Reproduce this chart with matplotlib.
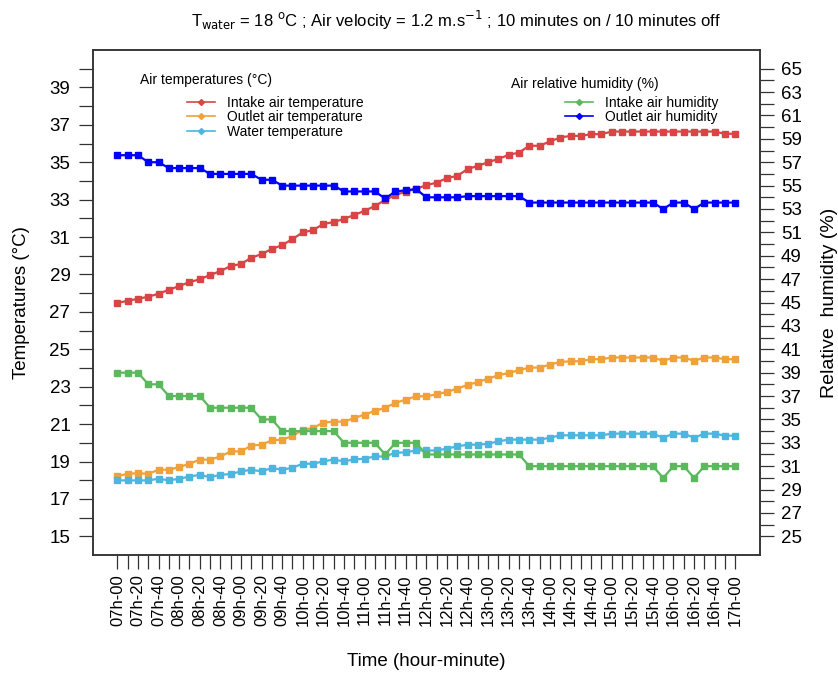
import numpy as np
import matplotlib
matplotlib.use("Agg")
import matplotlib.pyplot as plt
from matplotlib.lines import Line2D

plt.rcParams['font.family'] = ['Liberation Sans', 'DejaVu Sans']

# time axis: one point every 10 minutes from 07h-00 to 17h-00
times = ["%02dh-%02d" % (7 + m // 60, m % 60) for m in range(0, 601, 10)]

intake_temp = [27.48, 27.59, 27.70, 27.81, 27.97, 28.18, 28.38, 28.59, 28.74, 28.97,
               29.18, 29.45, 29.56, 29.89, 30.09, 30.36, 30.57, 30.89, 31.25, 31.37,
               31.70, 31.80, 31.97, 32.18, 32.40, 32.66, 32.98, 33.25, 33.43, 33.58,
               33.77, 33.91, 34.15, 34.27, 34.63, 34.81, 35.00, 35.18, 35.39, 35.52,
               35.88, 35.88, 36.11, 36.32, 36.41, 36.41, 36.50, 36.50, 36.64, 36.64,
               36.64, 36.64, 36.64, 36.64, 36.64, 36.64, 36.64, 36.64, 36.64, 36.52,
               36.52]
outlet_temp = [18.22, 18.34, 18.38, 18.34, 18.56, 18.56, 18.70, 18.88, 19.10, 19.10,
               19.27, 19.54, 19.54, 19.85, 19.90, 20.13, 20.17, 20.36, 20.70, 20.79,
               21.08, 21.13, 21.13, 21.32, 21.51, 21.70, 21.88, 22.13, 22.31, 22.49,
               22.49, 22.59, 22.72, 22.90, 23.09, 23.25, 23.43, 23.61, 23.73, 23.88,
               24.02, 24.02, 24.18, 24.32, 24.36, 24.36, 24.47, 24.47, 24.56, 24.56,
               24.56, 24.56, 24.56, 24.38, 24.56, 24.56, 24.38, 24.56, 24.56, 24.47,
               24.47]
water_temp = [17.99, 17.99, 17.99, 17.99, 18.08, 17.99, 18.08, 18.19, 18.29, 18.16,
              18.29, 18.33, 18.47, 18.56, 18.47, 18.65, 18.56, 18.67, 18.88, 18.88,
              19.01, 19.10, 19.01, 19.11, 19.15, 19.27, 19.27, 19.47, 19.49, 19.59,
              19.59, 19.59, 19.69, 19.81, 19.90, 19.90, 19.95, 20.08, 20.17, 20.17,
              20.17, 20.17, 20.27, 20.40, 20.40, 20.40, 20.40, 20.40, 20.49, 20.49,
              20.49, 20.49, 20.49, 20.27, 20.49, 20.49, 20.27, 20.49, 20.49, 20.38,
              20.38]
intake_rh = [39, 39, 39, 38, 38, 37, 37, 37, 37, 36,
             36, 36, 36, 36, 35, 35, 34, 34, 34, 34,
             34, 34, 33, 33, 33, 33, 32, 33, 33, 33,
             32, 32, 32, 32, 32, 32, 32, 32, 32, 32,
             31, 31, 31, 31, 31, 31, 31, 31, 31, 31,
             31, 31, 31, 30, 31, 31, 30, 31, 31, 31,
             31]
outlet_rh = [57.6, 57.6, 57.6, 57.0, 57.0, 56.5, 56.5, 56.5, 56.5, 56.0,
             56.0, 56.0, 56.0, 56.0, 55.5, 55.5, 55.0, 55.0, 55.0, 55.0,
             55.0, 55.0, 54.5, 54.5, 54.5, 54.5, 53.9, 54.5, 54.6, 54.7,
             54.0, 54.0, 54.0, 54.0, 54.1, 54.1, 54.1, 54.1, 54.1, 54.1,
             53.55, 53.55, 53.55, 53.55, 53.55, 53.55, 53.55, 53.55, 53.55, 53.55,
             53.55, 53.55, 53.55, 53.0, 53.55, 53.55, 53.0, 53.55, 53.55, 53.55,
             53.55]

c_red = "#D94545"
c_orange = "#F0A13A"
c_cyan = "#4DB6DE"
c_green = "#5CB85C"
c_blue = "#0000FF"

x = np.arange(len(times))

fig = plt.figure(figsize=(8.38, 6.73), dpi=100)
ax = fig.add_axes([0.1106, 0.1753, 0.7963, 0.7504])
ax2 = ax.twinx()

kw = dict(marker="s", markersize=4.3, linewidth=1.6)
ax.plot(x, intake_temp, color=c_red, **kw)
ax.plot(x, outlet_temp, color=c_orange, **kw)
ax.plot(x, water_temp, color=c_cyan, **kw)
ax2.plot(x, intake_rh, color=c_green, **kw)
ax2.plot(x, outlet_rh, color=c_blue, **kw)

ax.set_xlim(-2.4, 62.4)
ax.set_ylim(14, 41)
ax2.set_ylim(23.4, 66.6)

ax.set_xticks(x)
ax.set_xticklabels([t if i % 2 == 0 else "" for i, t in enumerate(times)],
                   rotation=90, fontsize=12)
ax.set_yticks(range(15, 41))
ax.set_yticklabels([str(v) if v % 2 == 1 else "" for v in range(15, 41)], fontsize=13.5)
ax2.set_yticks(range(25, 66))
ax2.set_yticklabels([str(v) if v % 2 == 1 else "" for v in range(25, 66)], fontsize=13.5)

for a in (ax, ax2):
    a.tick_params(length=10, width=0.9, color="#333333")
    for s in a.spines.values():
        s.set_linewidth(1.1)
        s.set_color("#333333")
ax.tick_params(axis="x", pad=4)
ax.tick_params(axis="y", pad=6)
ax2.tick_params(axis="y", pad=5)

ax.set_xlabel("Time (hour-minute)", fontsize=13.5, labelpad=19)
ax.set_ylabel("Temperatures (°C)", fontsize=13.5, labelpad=14)
ax2.set_ylabel("Relative  humidity (%)", fontsize=14, labelpad=14)

fig.text(456 / 838, 1 - 20 / 673,
         r"T$_{\mathrm{water}}$ = 18 $^{\mathrm{o}}$C ; Air velocity = 1.2 m.s$^{-1}$ ; "
         "10 minutes on / 10 minutes off",
         ha="center", va="center", fontsize=12)

# legends
def handle(c):
    return Line2D([0], [0], color=c, marker="D", markersize=3, linewidth=1.2)

leg_kw = dict(frameon=False, fontsize=10, handlelength=2.0, handletextpad=0.9,
              labelspacing=0.05, borderpad=0, borderaxespad=0, loc="upper left",
              bbox_transform=fig.transFigure)
fig.text(140 / 838, 1 - 80 / 673, "Air temperatures (°C)", fontsize=10, va="center")
leg1 = ax.legend([handle(c_red), handle(c_orange), handle(c_cyan)],
                 ["Intake air temperature", "Outlet air temperature", "Water temperature"],
                 bbox_to_anchor=(187 / 838, 1 - 95.5 / 673), **leg_kw)
fig.text(511 / 838, 1 - 84 / 673, "Air relative humidity (%)", fontsize=10, va="center")
leg2 = ax2.legend([handle(c_green), handle(c_blue)],
                  ["Intake air humidity", "Outlet air humidity"],
                  bbox_to_anchor=(565 / 838, 1 - 95.5 / 673), **leg_kw)

fig.savefig("out.png", dpi=100)
